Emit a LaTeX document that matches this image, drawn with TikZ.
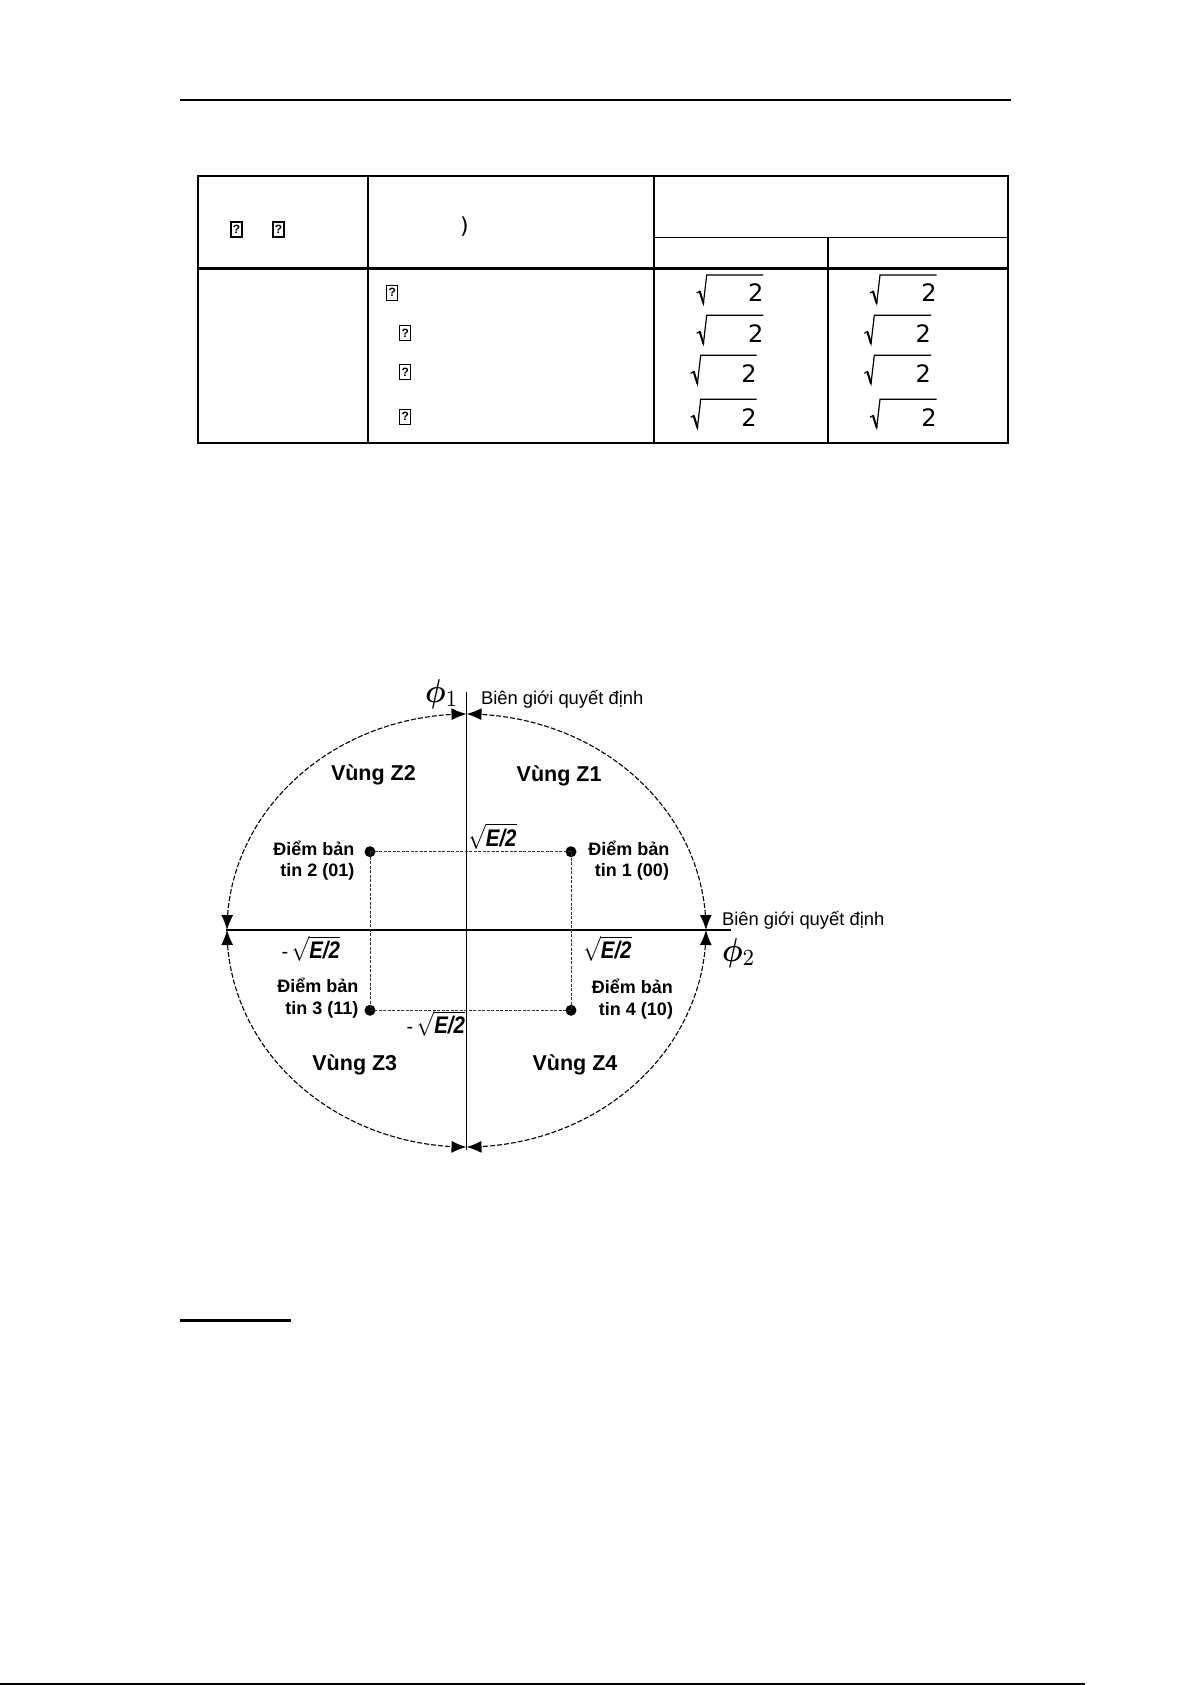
\documentclass[tikz,border=0pt]{standalone}
\usepackage{bm}
\usepackage{fontspec}
\usepackage{graphicx}
\setmainfont{Liberation Sans}
\newfontfamily\dejavu{DejaVu Sans}
\usetikzlibrary{arrows.meta}
\newcommand{\sqlabel}{{\fontsize{24}{24}\selectfont\scalebox{0.85}[1]{$\sqrt{\mbox{\bfseries\itshape E/2}}$}}}
\newcommand{\bigphi}[1]{\scalebox{2.9}[3.3]{$\bm{\phi}_{#1}$}}
\tikzset{
  txt/.style={inner sep=0pt, outer sep=0pt},
  vung/.style={txt, font=\fontsize{21.5}{24}\selectfont\bfseries},
  diem/.style={txt, font=\fontsize{18}{21}\selectfont\bfseries},
  bien/.style={txt, font=\fontsize{18.4}{21}\selectfont},
  sqlbl/.style={txt, font=\fontsize{20}{24}\selectfont\bfseries},
  two/.style={txt, font=\dejavu\fontsize{24}{24}\selectfont},
  tofu/.style={draw, line width=1.2pt, inner sep=0pt, minimum width=11pt, minimum height=15pt, font=\fontsize{12}{12}\selectfont\bfseries},
  axis/.style={line width=1.5pt},
  quarter/.style={line width=1.1pt, dash pattern=on 5pt off 2pt, {Latex[length=15pt,width=12pt]}-{Latex[length=15pt,width=12pt]}},
  rectdash/.style={line width=1pt, black!80, dash pattern=on 3pt off 1.5pt},
  dot/.style={circle, fill=black, inner sep=0pt, minimum size=11pt},
  thin rule/.style={line width=1.3pt},
  thick rule/.style={line width=2.2pt}
}
\begin{document}
\begin{tikzpicture}[x=1pt,y=-1pt]
\useasboundingbox (0,0) rectangle (1192,1685);
% page rules
\draw[thin rule] (179.5,100) -- (1010.5,100);
\draw[line width=3.3pt] (179.5,1320.5) -- (290.5,1320.5);
\draw[line width=2pt] (0,1684) -- (1085,1684);
% table
\draw[line width=2pt] (197.8,176) rectangle (1007.5,442.5);
\draw[thick rule] (367.6,176) -- (367.6,442.5);
\draw[line width=1.5pt] (654,176) -- (654,442.5);
\draw[line width=2pt] (828,237.7) -- (828,442.5);
\draw[thin rule] (654,237.7) -- (1007.5,237.7);
\draw[line width=2.5pt] (197.8,268.5) -- (1007.5,268.5);
\node[tofu] (h1) at (236.5,229.5) {?};
\node[tofu] (h2) at (278.5,229.5) {?};
\node[txt, font=\dejavu\fontsize{22}{22}\selectfont] (paren) at (464.4,226.5) {)};
\node[tofu] (r1) at (392.3,292.7) {?};
\node[tofu] (r2) at (405.2,333.3) {?};
\node[tofu] (r3) at (405.2,372.3) {?};
\node[tofu] (r4) at (405.2,416.7) {?};
\foreach \n/\xl/\yo/\xr in {a/696.7/275/763.3, b/696.7/315.3/763.3, c/690.7/355.3/756.7, d/690.7/399.3/756.7, e/870/275/936.7, f/864.3/315.3/931, g/864.3/355.3/931, h/870/399.3/936.7}{
  \draw[line width=1.2pt, line join=miter] (\xl,\yo+18) -- (\xl+3,\yo+16.3) -- (\xl+6.7,\yo+28.3) -- (\xl+10,\yo) -- (\xr,\yo);
  \draw[line width=2pt] (\xl+3,\yo+16.3) -- (\xl+6.7,\yo+28.3);
  \node[two, anchor=base east] (two\n) at (\xr,\yo+26.7) {2};
}
% diagram axes
\coordinate (Ta) at (466.5,692);
\coordinate (Ba) at (466.5,1150);
\coordinate (La) at (226,930);
\coordinate (Ra) at (731,930);
\draw[axis] (Ta) -- (Ba);
\draw[axis] (La) -- (Ra);
% decision boundary arcs
\draw[quarter] plot[domain=180:270, samples=80] ({466.5+239.5*cos(\x)},{930+216*sin(\x)});
\draw[quarter] plot[domain=0:-90, samples=80] ({466.5+239.5*cos(\x)},{930+216*sin(\x)});
\draw[quarter] plot[domain=180:90, samples=80] ({466.5+239.5*cos(\x)},{930+217*sin(\x)});
\draw[quarter] plot[domain=0:90, samples=80] ({466.5+239.5*cos(\x)},{930+217*sin(\x)});
% signal points
\node[dot] (P1) at (571,851.7) {};
\node[dot] (P2) at (370,851.7) {};
\node[dot] (P3) at (370,1010.3) {};
\node[dot] (P4) at (571,1010.3) {};
\draw[rectdash] (P2.center) -- (P1.center) -- (P4.center) -- (P3.center) -- cycle;
% labels
\node[txt, anchor=base west] (phi1) at (425,702) {\bigphi{1}};
\node[txt, anchor=base west] (phi2) at (722,961) {\bigphi{2}};
\node[bien, anchor=base west] (b1) at (481,704.3) {Biên giới quyết định};
\node[bien, anchor=base west] (b2) at (722,925) {Biên giới quyết định};
\node[vung, anchor=base west] (z2) at (331,780) {Vùng Z2};
\node[vung, anchor=base west] (z1) at (516.7,781.7) {Vùng Z1};
\node[vung, anchor=base west] (z3) at (312.4,1070) {Vùng Z3};
\node[vung, anchor=base west] (z4) at (532.6,1070) {Vùng Z4};
\node[diem, anchor=base east] (t2a) at (354.3,855) {Điểm bản};
\node[diem, anchor=base east] (t2b) at (354.3,876.7) {tin 2 (01)};
\node[diem, anchor=base east] (t1a) at (669.5,855) {Điểm bản};
\node[diem, anchor=base east] (t1b) at (669,876.7) {tin 1 (00)};
\node[diem, anchor=base east] (t3a) at (358.3,992) {Điểm bản};
\node[diem, anchor=base east] (t3b) at (358.3,1014.5) {tin 3 (11)};
\node[diem, anchor=base east] (t4a) at (673,993) {Điểm bản};
\node[diem, anchor=base east] (t4b) at (673,1015.5) {tin 4 (10)};
\node[sqlbl, anchor=base west] (e1) at (468.3,846) {\sqlabel};
\node[sqlbl, anchor=base west] (e2) at (583.3,958.3) {\sqlabel};
\node[sqlbl, anchor=base west] (e3) at (281.7,958.3) {\mdseries -\,\sqlabel};
\node[sqlbl, anchor=base west] (e4) at (406.7,1033.3) {\mdseries -\,\sqlabel};
\end{tikzpicture}
\end{document}
